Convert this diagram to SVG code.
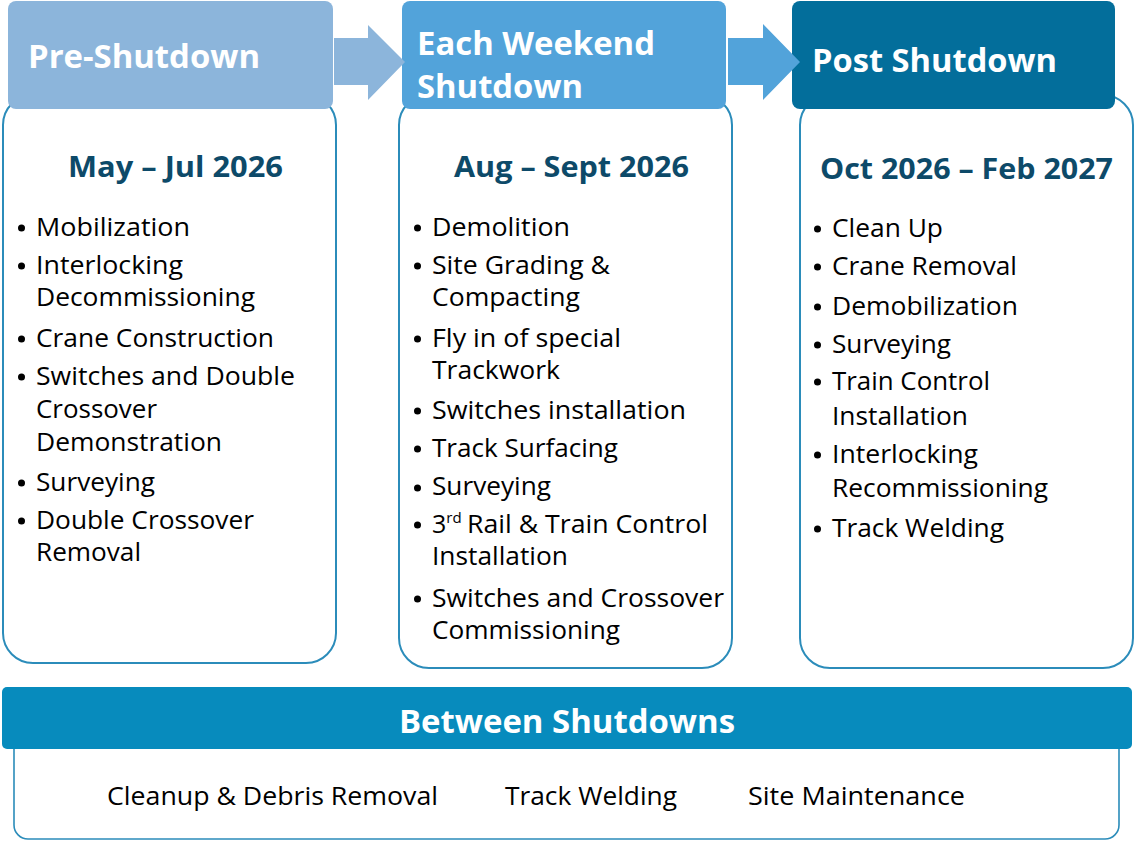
<svg xmlns="http://www.w3.org/2000/svg" width="1135" height="841" viewBox="0 0 1135 841">
<style>
.box{fill:#ffffff;stroke:#2b8cba;stroke-width:2}
.hd{font-family:"Open Sans","Liberation Sans",sans-serif;font-weight:bold;font-size:32px;fill:#ffffff}
.sub{font-family:"Open Sans","Liberation Sans",sans-serif;font-weight:bold;font-size:28px;fill:#0d4a69}
.it{font-family:"Open Sans","Liberation Sans",sans-serif;font-size:25px;fill:#000000}
.bt{font-family:"Open Sans","Liberation Sans",sans-serif;font-size:26px;fill:#000000}
.dot{fill:#000000}
</style>
<rect width="1135" height="841" fill="#ffffff"/>

<g id="pre-shutdown">
<rect class="box" x="3" y="95" width="333" height="568" rx="30"/>
<rect x="8" y="1" width="325" height="108" rx="8" fill="#8cb5db"/>
<text class="hd" x="28" y="68" textLength="232" lengthAdjust="spacingAndGlyphs">Pre-Shutdown</text>
<text class="sub" x="68" y="177" textLength="215" lengthAdjust="spacingAndGlyphs">May – Jul 2026</text>
<g class="dot">
<circle cx="21.5" cy="228" r="3.5"/><circle cx="21.5" cy="266" r="3.5"/><circle cx="21.5" cy="339" r="3.5"/><circle cx="21.5" cy="377" r="3.5"/><circle cx="21.5" cy="483" r="3.5"/><circle cx="21.5" cy="521" r="3.5"/>
</g>
<text class="it" x="36" y="236" textLength="154" lengthAdjust="spacingAndGlyphs">Mobilization</text>
<text class="it" x="36" y="274" textLength="147" lengthAdjust="spacingAndGlyphs">Interlocking</text>
<text class="it" x="36" y="306" textLength="219" lengthAdjust="spacingAndGlyphs">Decommissioning</text>
<text class="it" x="36" y="347" textLength="238" lengthAdjust="spacingAndGlyphs">Crane Construction</text>
<text class="it" x="36" y="385" textLength="259" lengthAdjust="spacingAndGlyphs">Switches and Double</text>
<text class="it" x="36" y="418" textLength="121" lengthAdjust="spacingAndGlyphs">Crossover</text>
<text class="it" x="36" y="451" textLength="186" lengthAdjust="spacingAndGlyphs">Demonstration</text>
<text class="it" x="36" y="491" textLength="119" lengthAdjust="spacingAndGlyphs">Surveying</text>
<text class="it" x="36" y="529" textLength="218" lengthAdjust="spacingAndGlyphs">Double Crossover</text>
<text class="it" x="36" y="561" textLength="105" lengthAdjust="spacingAndGlyphs">Removal</text>
</g>

<g id="weekend-shutdown">
<rect class="box" x="399" y="95" width="333" height="573" rx="30"/>
<rect x="402" y="1" width="324" height="108" rx="8" fill="#52a3da"/>
<text class="hd" x="417" y="55" textLength="238" lengthAdjust="spacingAndGlyphs">Each Weekend</text>
<text class="hd" x="417" y="98" textLength="166" lengthAdjust="spacingAndGlyphs">Shutdown</text>
<text class="sub" x="454" y="177" textLength="235" lengthAdjust="spacingAndGlyphs">Aug – Sept 2026</text>
<g class="dot">
<circle cx="417.5" cy="228" r="3.5"/><circle cx="417.5" cy="266" r="3.5"/><circle cx="417.5" cy="339" r="3.5"/><circle cx="417.5" cy="411" r="3.5"/><circle cx="417.5" cy="449" r="3.5"/><circle cx="417.5" cy="488" r="3.5"/><circle cx="417.5" cy="525" r="3.5"/><circle cx="417.5" cy="599" r="3.5"/>
</g>
<text class="it" x="432" y="236" textLength="138" lengthAdjust="spacingAndGlyphs">Demolition</text>
<text class="it" x="432" y="274" textLength="178" lengthAdjust="spacingAndGlyphs">Site Grading &amp;</text>
<text class="it" x="432" y="306" textLength="148" lengthAdjust="spacingAndGlyphs">Compacting</text>
<text class="it" x="432" y="347" textLength="189" lengthAdjust="spacingAndGlyphs">Fly in of special</text>
<text class="it" x="432" y="379" textLength="128" lengthAdjust="spacingAndGlyphs">Trackwork</text>
<text class="it" x="432" y="419" textLength="254" lengthAdjust="spacingAndGlyphs">Switches installation</text>
<text class="it" x="432" y="457" textLength="186" lengthAdjust="spacingAndGlyphs">Track Surfacing</text>
<text class="it" x="432" y="495" textLength="119" lengthAdjust="spacingAndGlyphs">Surveying</text>
<text class="it" x="432" y="533">3<tspan font-size="15" dy="-10">rd</tspan><tspan dy="10" x="467" textLength="241" lengthAdjust="spacingAndGlyphs">Rail &amp; Train Control</tspan></text>
<text class="it" x="432" y="565" textLength="136" lengthAdjust="spacingAndGlyphs">Installation</text>
<text class="it" x="432" y="607" textLength="292" lengthAdjust="spacingAndGlyphs">Switches and Crossover</text>
<text class="it" x="432" y="639" textLength="188" lengthAdjust="spacingAndGlyphs">Commissioning</text>
</g>

<g id="post-shutdown">
<rect class="box" x="800" y="95" width="333" height="573" rx="30"/>
<rect x="792" y="1" width="323" height="108" rx="8" fill="#036e9b"/>
<text class="hd" x="812" y="72" textLength="245" lengthAdjust="spacingAndGlyphs">Post Shutdown</text>
<text class="sub" x="820" y="179" textLength="293" lengthAdjust="spacingAndGlyphs">Oct 2026 – Feb 2027</text>
<g class="dot">
<circle cx="817.5" cy="229" r="3.5"/><circle cx="817.5" cy="267" r="3.5"/><circle cx="817.5" cy="307" r="3.5"/><circle cx="817.5" cy="345" r="3.5"/><circle cx="817.5" cy="382" r="3.5"/><circle cx="817.5" cy="455" r="3.5"/><circle cx="817.5" cy="529" r="3.5"/>
</g>
<text class="it" x="832" y="237" textLength="111" lengthAdjust="spacingAndGlyphs">Clean Up</text>
<text class="it" x="832" y="275" textLength="185" lengthAdjust="spacingAndGlyphs">Crane Removal</text>
<text class="it" x="832" y="315" textLength="186" lengthAdjust="spacingAndGlyphs">Demobilization</text>
<text class="it" x="832" y="353" textLength="119" lengthAdjust="spacingAndGlyphs">Surveying</text>
<text class="it" x="832" y="390" textLength="158" lengthAdjust="spacingAndGlyphs">Train Control</text>
<text class="it" x="832" y="425" textLength="136" lengthAdjust="spacingAndGlyphs">Installation</text>
<text class="it" x="832" y="463" textLength="146" lengthAdjust="spacingAndGlyphs">Interlocking</text>
<text class="it" x="832" y="497" textLength="216" lengthAdjust="spacingAndGlyphs">Recommissioning</text>
<text class="it" x="832" y="537" textLength="172" lengthAdjust="spacingAndGlyphs">Track Welding</text>
</g>

<g id="between-shutdowns">
<rect x="14" y="735" width="1105" height="104" rx="14" fill="#ffffff" stroke="#2b8cba" stroke-width="1.6"/>
<rect x="2" y="687" width="1130" height="62" rx="5" fill="#078bbd"/>
<text class="hd" x="399" y="733" textLength="336" lengthAdjust="spacingAndGlyphs">Between Shutdowns</text>
<text class="bt" x="107" y="805" textLength="331" lengthAdjust="spacingAndGlyphs">Cleanup &amp; Debris Removal</text>
<text class="bt" x="505" y="805" textLength="172" lengthAdjust="spacingAndGlyphs">Track Welding</text>
<text class="bt" x="748" y="805" textLength="217" lengthAdjust="spacingAndGlyphs">Site Maintenance</text>
</g>

<g id="connectors">
<path d="M334,38 H368 V25 L405,62 L368,100 V85 H334 Z" fill="#8cb5db"/>
<path d="M728,38 H763 V24 L800,62 L763,100 V85 H728 Z" fill="#52a3da"/>
</g>
</svg>
